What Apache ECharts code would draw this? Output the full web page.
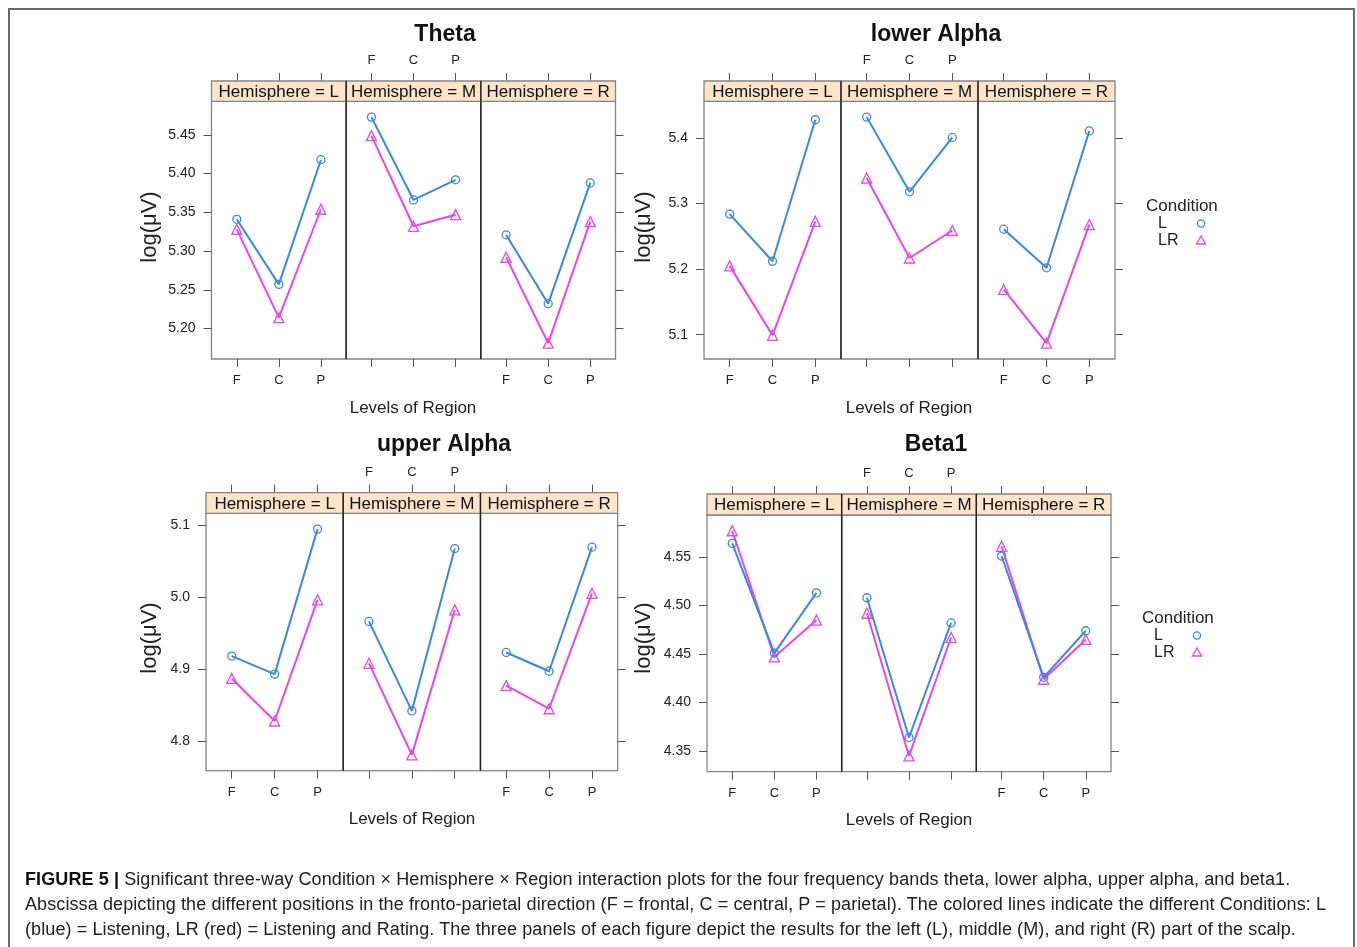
<!DOCTYPE html>
<html>
<head>
<meta charset="utf-8">
<script src="https://cdn.jsdelivr.net/npm/echarts@6/dist/echarts.min.js"></script>
<style>
  html, body { margin:0; padding:0; background:#fff; }
  #frame { position:absolute; left:8px; top:8px; width:1347px; height:1000px; border:2px solid #6a6a6a; border-bottom:none; box-sizing:border-box; }
  #chart { position:absolute; left:0; top:0; width:1357px; height:947px; }
  #caption { position:absolute; left:25px; top:867px; width:1320px; font-family:'Liberation Sans', Arial, sans-serif; font-size:18px; letter-spacing:0.1px; line-height:25px; color:#222; white-space:nowrap; }
  #caption b { font-weight:bold; color:#111; }
</style>
</head>
<body>
<div id="frame"></div>
<div id="chart"></div>
<div id="caption"><b>FIGURE 5 |</b> Significant three-way Condition × Hemisphere × Region interaction plots for the four frequency bands theta, lower alpha, upper alpha, and beta1.<br>Abscissa depicting the different positions in the fronto-parietal direction (F = frontal, C = central, P = parietal). The colored lines indicate the different Conditions: L<br>(blue) = Listening, LR (red) = Listening and Rating. The three panels of each figure depict the results for the left (L), middle (M), and right (R) part of the scalp.</div>
<script>
// ---------------- data ----------------
const regions = ['F', 'C', 'P'];
const hemispheres = ['L', 'M', 'R'];
const conditions = ['L', 'LR'];
const bandNames = ['Theta', 'lower Alpha', 'upper Alpha', 'Beta1'];

// values ordered: hemisphere L (F,C,P), hemisphere M (F,C,P), hemisphere R (F,C,P)
const theta_L  = [5.341, 5.257, 5.418,  5.473, 5.366, 5.392,  5.321, 5.232, 5.388];
const theta_LR = [5.328, 5.214, 5.354,  5.449, 5.332, 5.347,  5.292, 5.181, 5.338];
const lowerAlpha_L  = [5.284, 5.212, 5.428,  5.432, 5.318, 5.401,  5.261, 5.202, 5.411];
const lowerAlpha_LR = [5.205, 5.099, 5.273,  5.339, 5.217, 5.259,  5.169, 5.087, 5.268];
const upperAlpha_L  = [4.918, 4.893, 5.094,  4.966, 4.842, 5.067,  4.923, 4.897, 5.069];
const upperAlpha_LR = [4.887, 4.828, 4.996,  4.908, 4.781, 4.982,  4.877, 4.845, 5.005];
const beta1_L  = [4.564, 4.451, 4.513,  4.508, 4.364, 4.482,  4.551, 4.426, 4.474];
const beta1_LR = [4.577, 4.447, 4.485,  4.492, 4.345, 4.467,  4.561, 4.424, 4.465];

const thetaTicks      = ['5.20', '5.25', '5.30', '5.35', '5.40', '5.45'];
const lowerAlphaTicks = ['5.1', '5.2', '5.3', '5.4'];
const upperAlphaTicks = ['4.8', '4.9', '5.0', '5.1'];
const beta1Ticks      = ['4.35', '4.40', '4.45', '4.50', '4.55'];

// ---------------- layout ----------------
const FONT = "'Liberation Sans', Arial, sans-serif";
const BLUE = '#3a86ef';
const MAGENTA = '#e845ef';
const bands = [
  { title: bandNames[0], L: theta_L, LR: theta_LR, ticks: thetaTicks,
    left: 211.5, right: 615.5, stripTop: 81, stripBot: 101.3, bottom: 359,
    titleX: 445, titleY: 35, ylabX: 150, ylabY: 227, xlabX: 413, xlabY: 408, legend: null },
  { title: bandNames[1], L: lowerAlpha_L, LR: lowerAlpha_LR, ticks: lowerAlphaTicks,
    left: 704, right: 1115, stripTop: 81, stripBot: 101.3, bottom: 359,
    titleX: 936, titleY: 35, ylabX: 644, ylabY: 227, xlabX: 909, xlabY: 408, legend: { x: 1146, y: 206, ix: 1201 } },
  { title: bandNames[2], L: upperAlpha_L, LR: upperAlpha_LR, ticks: upperAlphaTicks,
    left: 206, right: 617.7, stripTop: 492.7, stripBot: 513.3, bottom: 770.7,
    titleX: 444, titleY: 445, ylabX: 150, ylabY: 638, xlabX: 412, xlabY: 819, legend: null },
  { title: bandNames[3], L: beta1_L, LR: beta1_LR, ticks: beta1Ticks,
    left: 707, right: 1111, stripTop: 494, stripBot: 515, bottom: 771.7,
    titleX: 936, titleY: 445, ylabX: 644, ylabY: 638, xlabX: 909, xlabY: 820, legend: { x: 1142, y: 618, ix: 1197 } }
];

const grids = [], xAxes = [], yAxes = [], series = [], graphics = [];
const tickStyle = { color: '#555', width: 1 };
const labelStyle = { color: '#222', fontFamily: FONT, fontSize: 13 };

bands.forEach((b, g) => {
  const all = b.L.concat(b.LR);
  const dmin = Math.min(...all), dmax = Math.max(...all);
  const pad = 0.07 * (dmax - dmin);
  const ymin = dmin - pad, ymax = dmax + pad;
  const tickVals = b.ticks.map(Number);
  const pw = (b.right - b.left) / 3;
  const stripH = b.stripBot - b.stripTop;

  hemispheres.forEach((h, p) => {
    const gi = g * 3 + p;
    const gl = b.left + p * pw;
    grids.push({ left: gl, top: b.stripBot, width: pw, height: b.bottom - b.stripBot,
      show: true, borderColor: '#858585', borderWidth: 1.3, backgroundColor: 'transparent' });
    // bottom x axis
    xAxes.push({ type: 'value', gridIndex: gi, position: 'bottom', min: 0.4, max: 3.6,
      axisLine: { show: false }, splitLine: { show: false },
      axisTick: { show: true, length: 8, customValues: [1, 2, 3], lineStyle: tickStyle },
      axisLabel: Object.assign({ show: p !== 1, customValues: [1, 2, 3], margin: 15,
        formatter: v => regions[Math.round(v) - 1] }, labelStyle) });
    // top x axis (above strip)
    xAxes.push({ type: 'value', gridIndex: gi, position: 'top', offset: stripH, min: 0.4, max: 3.6,
      axisLine: { show: false }, splitLine: { show: false },
      axisTick: { show: true, length: 8, customValues: [1, 2, 3], lineStyle: tickStyle },
      axisLabel: Object.assign({ show: p === 1, customValues: [1, 2, 3], margin: 14,
        formatter: v => regions[Math.round(v) - 1] }, labelStyle) });
    yAxes.push({ type: 'value', gridIndex: gi, position: p === 2 ? 'right' : 'left', min: ymin, max: ymax,
      axisLine: { show: false }, splitLine: { show: false },
      axisTick: { show: p !== 1, length: 8, customValues: tickVals, lineStyle: tickStyle },
      axisLabel: Object.assign({ show: p === 0, customValues: tickVals, margin: 16,
        formatter: v => b.ticks[tickVals.findIndex(t => Math.abs(t - v) < 1e-6)] }, labelStyle, { fontSize: 14 }) });

    const seg = (arr) => regions.map((r, i) => [i + 1, arr[p * 3 + i]]);
    series.push({ type: 'line', name: conditions[0], xAxisIndex: 2 * gi, yAxisIndex: gi, data: seg(b.L),
      symbol: 'circle', symbolSize: 8, z: 3,
      lineStyle: { color: BLUE, width: 2 },
      itemStyle: { color: 'rgba(255,255,255,0)', borderColor: BLUE, borderWidth: 1.3 } });
    series.push({ type: 'line', name: conditions[1], xAxisIndex: 2 * gi, yAxisIndex: gi, data: seg(b.LR),
      symbol: 'triangle', symbolSize: 10, z: 2,
      lineStyle: { color: MAGENTA, width: 2 },
      itemStyle: { color: 'rgba(255,255,255,0)', borderColor: MAGENTA, borderWidth: 1.3 } });

    // strip
    graphics.push({ type: 'rect', shape: { x: gl, y: b.stripTop, width: pw, height: stripH },
      style: { fill: '#fde4c8', stroke: '#858585', lineWidth: 1.3 }, z: 1 });
    graphics.push({ type: 'text', x: gl + pw / 2, y: b.stripTop + stripH / 2 + 1,
      style: { text: 'Hemisphere = ' + h, font: '17px ' + FONT, fill: '#111', align: 'center', verticalAlign: 'middle' }, z: 2 });
    if (p > 0) {
      graphics.push({ type: 'line', shape: { x1: gl, y1: b.stripTop, x2: gl, y2: b.bottom },
        style: { stroke: '#222', lineWidth: 1.4 }, z: 3 });
    }
  });

  graphics.push({ type: 'text', x: b.titleX, y: b.titleY,
    style: { text: b.title, font: 'bold 23px ' + FONT, fill: '#111', align: 'center', verticalAlign: 'middle' } });
  graphics.push({ type: 'text', x: b.xlabX, y: b.xlabY,
    style: { text: 'Levels of Region', font: '17px ' + FONT, fill: '#222', align: 'center', verticalAlign: 'middle' } });
  graphics.push({ type: 'text', x: b.ylabX, y: b.ylabY, rotation: Math.PI / 2,
    style: { text: 'log(μV)', font: '22px ' + FONT, fill: '#222', align: 'center', verticalAlign: 'middle' } });

  if (b.legend) {
    const lg = b.legend;
    graphics.push({ type: 'text', x: lg.x, y: lg.y,
      style: { text: 'Condition', font: '17px ' + FONT, fill: '#222', align: 'left', verticalAlign: 'middle' } });
    graphics.push({ type: 'text', x: lg.x + 12, y: lg.y + 17.5,
      style: { text: conditions[0], font: '16px ' + FONT, fill: '#222', align: 'left', verticalAlign: 'middle' } });
    graphics.push({ type: 'text', x: lg.x + 12, y: lg.y + 35,
      style: { text: conditions[1], font: '16px ' + FONT, fill: '#222', align: 'left', verticalAlign: 'middle' } });
    graphics.push({ type: 'circle', shape: { cx: lg.ix, cy: lg.y + 17.5, r: 3.6 },
      style: { fill: 'none', stroke: BLUE, lineWidth: 1.3 } });
    graphics.push({ type: 'polygon', shape: { points: [[lg.ix, lg.y + 30], [lg.ix - 4.5, lg.y + 38], [lg.ix + 4.5, lg.y + 38]] },
      style: { fill: 'none', stroke: MAGENTA, lineWidth: 1.3 } });
  }
});

const chart = echarts.init(document.getElementById('chart'), null, { renderer: 'canvas' });
chart.setOption({
  animation: false,
  grid: grids,
  xAxis: xAxes,
  yAxis: yAxes,
  series: series,
  graphic: graphics
});
</script>
</body>
</html>
